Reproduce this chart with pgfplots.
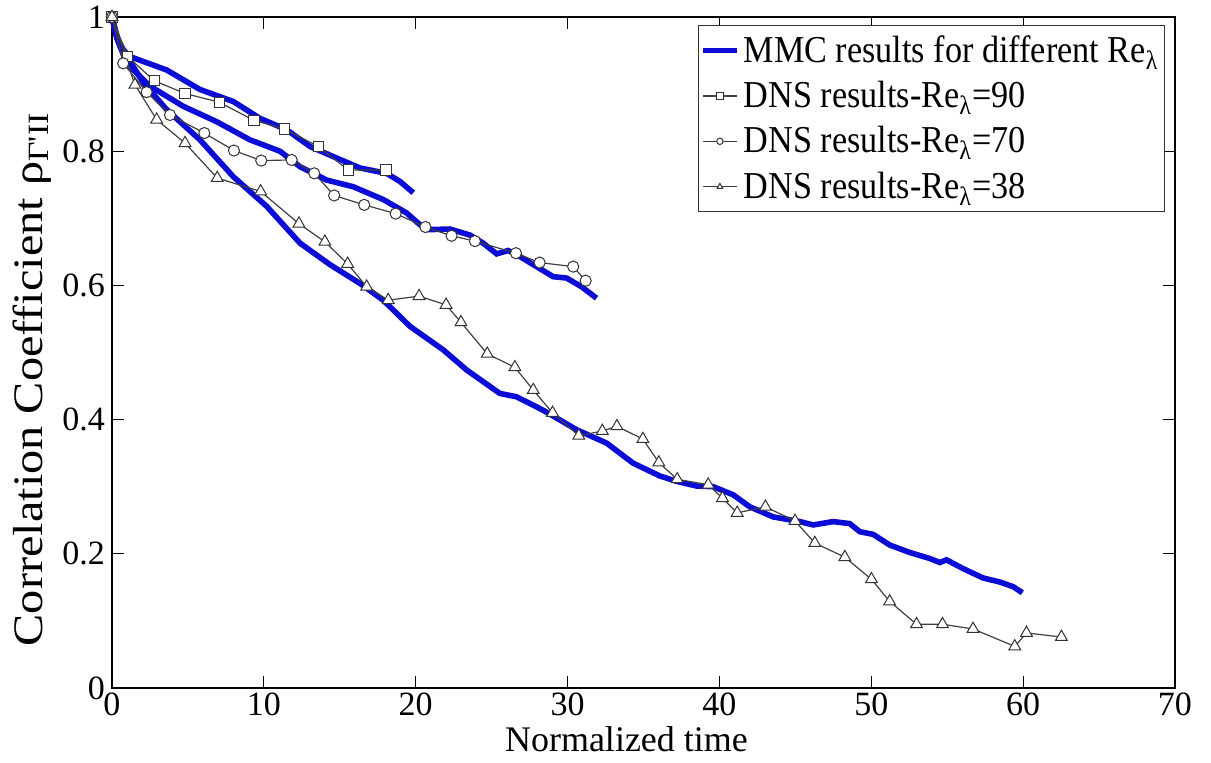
\documentclass[border=0pt]{standalone}
\usepackage{fontspec}
\setmainfont{Liberation Serif}
\newfontfamily\ylabfont[FakeStretch=1.15]{Liberation Serif}
\newfontfamily\legfont[FakeStretch=0.9]{Liberation Serif}
\usepackage{pgfplots}
\pgfplotsset{compat=1.18}
\definecolor{mblue}{RGB}{12,12,215}
\begin{document}
\begin{tikzpicture}
\path[use as bounding box] (-56pt,-37pt) rectangle (549.5pt,344pt);
\begin{axis}[
  at={(0,0)}, anchor=south west,
  scale only axis, width=531.5pt, height=335.5pt,
  xmin=0, xmax=70, ymin=0, ymax=1,
  xtick={0,10,...,70}, ytick={0,0.2,...,1},
  tick align=inside, major tick length=6pt,
  tick style={black, line width=0.5pt},
  axis line style={black, line width=0.6pt},
  /pgf/number format/assume math mode=true,
  ticklabel style={font=\fontsize{17}{20}\selectfont},
  xticklabel style={inner sep=0.5pt, yshift=-1.5pt},
  xlabel={Normalized time},
  ylabel={Correlation Coefficient ρ\textsubscript{Γ'II}},
  xlabel style={font=\fontsize{18}{21}\selectfont, inner sep=0pt, at={(axis description cs:0.484,-0.077)}, anchor=center},
  ylabel style={font=\ylabfont\fontsize{21}{24}\selectfont, at={(axis description cs:-0.0755,0.46)}, anchor=center},
  legend style={at={(rel axis cs:1,1)}, anchor=north east, xshift=-5pt, yshift=-4pt,
    draw=black!80, line width=0.5pt, font=\legfont\fontsize{19}{23}\selectfont,
    row sep=4pt, inner xsep=1pt, inner ysep=3pt, cells={anchor=west}},
  legend cell align=left,
  legend image post style={mark size=1.6pt},
  clip=false,
]
% MMC curves without legend entries
\addplot[mblue, line width=2.8pt, forget plot] coordinates {
(0,1) (0.3,0.97) (0.97,0.931) (2.5,0.897) (4.69,0.867) (6.89,0.844) (9.08,0.817)
(11.06,0.800) (12.38,0.777) (14.13,0.757) (15.89,0.747) (17.86,0.728) (19.4,0.708)
(20.65,0.683) (22.25,0.684) (23.57,0.675) (24.44,0.663) (25.33,0.647) (26.09,0.652)
(26.86,0.643) (27.96,0.628) (29.05,0.613) (29.93,0.611) (30.92,0.598) (31.91,0.581)
};
\addplot[mblue, line width=2.8pt, forget plot] coordinates {
(0,1) (0.4,0.965) (1.4,0.926) (2.06,0.902) (3.6,0.862) (5.79,0.817) (7.99,0.762)
(10.18,0.718) (12.38,0.663) (14.35,0.631) (16.33,0.603) (17.86,0.578) (19.62,0.539)
(21.81,0.504) (23.35,0.474) (25.54,0.439) (26.64,0.434) (28.39,0.414) (30.59,0.385)
(32.57,0.365) (34.32,0.335) (36.08,0.316) (37.18,0.308) (38.49,0.301) (39.59,0.300)
(40.9,0.288) (42.0,0.270) (43.54,0.255) (45.3,0.248) (46.17,0.243) (47.49,0.248)
(48.58,0.245) (49.24,0.233) (50.12,0.229) (51.22,0.213) (52.53,0.202) (53.85,0.193)
(54.51,0.187) (54.95,0.191) (56.04,0.178) (57.36,0.164) (58.46,0.158) (59.34,0.151)
(59.95,0.142)
};
\addplot[mblue, line width=2.8pt] coordinates {
(0,1) (0.25,0.975) (0.55,0.955) (1.18,0.941) (3.6,0.921) (5.79,0.892) (7.99,0.874)
(9.74,0.849) (11.5,0.832) (13.04,0.807) (14.57,0.792) (16.33,0.775) (18.08,0.767)
(18.96,0.755) (19.84,0.738)
};
\addlegendentry{MMC results for different Re\textsubscript{λ}}
\addplot[black!75, line width=0.6pt, mark=square*, mark size=2.6pt,
  mark options={fill=white, draw=black!80, line width=0.5pt}] coordinates {
(0,1.0) (1.03,0.941) (2.78,0.905) (4.81,0.886) (7.06,0.873) (9.35,0.846)
(11.37,0.833) (13.58,0.807) (15.56,0.772) (18.04,0.772)
};
\addlegendentry{DNS results-Re\textsubscript{λ}=90}
\addplot[black!75, line width=0.6pt, mark=*, mark size=2.8pt,
  mark options={fill=white, draw=black!80, line width=0.5pt}] coordinates {
(0,1) (0.74,0.931) (2.28,0.888) (3.82,0.854) (6.08,0.827) (8.03,0.801) (9.83,0.786)
(11.83,0.787) (13.32,0.767) (14.63,0.734) (16.61,0.720) (18.68,0.707) (20.64,0.687)
(22.36,0.674) (23.9,0.666) (26.6,0.648) (28.16,0.634) (30.37,0.628) (31.19,0.607)
};
\addlegendentry{DNS results-Re\textsubscript{λ}=70}
\addplot[black!75, line width=0.6pt, mark=triangle*, mark size=3.4pt,
  mark options={fill=white, draw=black!80, line width=0.5pt}] coordinates {
(0,1) (1.51,0.899) (2.94,0.847) (4.81,0.812) (6.93,0.760) (9.79,0.740) (12.31,0.692)
(14.02,0.665) (15.52,0.632) (16.77,0.598) (18.19,0.578) (20.22,0.584) (22.0,0.571)
(22.98,0.545) (24.71,0.498) (26.53,0.478) (27.74,0.444) (29.01,0.410) (30.74,0.376)
(32.29,0.383) (33.25,0.390) (34.96,0.371) (36.01,0.336) (37.22,0.311) (39.26,0.303)
(40.2,0.283) (41.17,0.261) (43.03,0.270) (44.98,0.249) (46.28,0.216) (48.26,0.195)
(50.01,0.162) (51.21,0.129) (52.98,0.095) (54.69,0.095) (56.7,0.088) (59.45,0.062)
(60.22,0.082) (62.52,0.076)
};
\addlegendentry{DNS results-Re\textsubscript{λ}=38}
\end{axis}
\end{tikzpicture}
\end{document}
